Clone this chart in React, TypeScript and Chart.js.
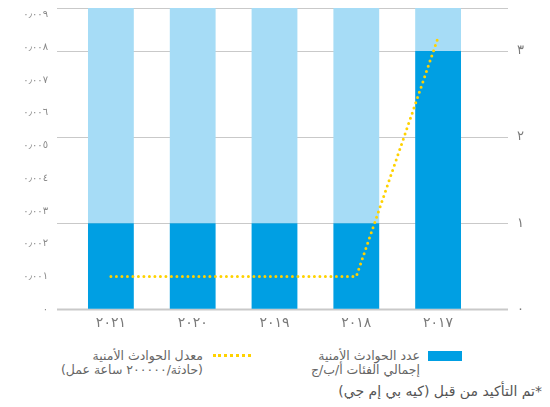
import React, { useEffect, useRef } from "react";
import { Chart, registerables } from "chart.js";

Chart.register(...registerables);

const years = ["٢٠٢١", "٢٠٢٠", "٢٠١٩", "٢٠١٨", "٢٠١٧"];
const incidents = [1, 1, 1, 1, 3];
const rate = [0.001, 0.001, 0.001, 0.001, 0.0083];
const incidentAxisMax = 3.5;
const incidentTicks = [0, 1, 2, 3, 3.5];
const rateTicks = [0, 0.001, 0.002, 0.003, 0.004, 0.005, 0.006, 0.007, 0.008, 0.009];
const rateAxisMax = 0.0092;

const legendBars = ["عدد الحوادث الأمنية", "إجمالي الفئات أ/ب/ج"];
const legendLine = ["معدل الحوادث الأمنية", "(حادثة/٢٠٠٠٠٠ ساعة عمل)"];
const footnote = "*تم التأكيد من قبل (كيه بي إم جي)";

const arabicDigits = "٠١٢٣٤٥٦٧٨٩";
function toArabic(s: string): string {
  return s.replace(/[0-9]/g, (d) => arabicDigits[+d]).replace(".", "٫");
}

const FONT = "'DejaVu Sans', sans-serif";

const gridPlugin = {
  id: "extGrid",
  beforeDatasetsDraw(chart: any) {
    const { ctx, chartArea, scales } = chart;
    const y1 = scales.y1;
    ctx.save();
    y1.ticks.forEach((t: any) => {
      const y = Math.round(y1.getPixelForValue(t.value)) + 0.5;
      ctx.beginPath();
      ctx.strokeStyle = "#c9c9c9";
      ctx.lineWidth = t.value === 0 ? 2 : 1.2;
      ctx.moveTo(chartArea.left - 13, y);
      ctx.lineTo(chartArea.right + 29, y);
      ctx.stroke();
    });
    ctx.restore();
  },
};

export default function App() {
  const ref = useRef<HTMLCanvasElement>(null);
  useEffect(() => {
    if (!ref.current) return;
    const chart = new Chart(ref.current, {
      type: "bar",
      data: {
        labels: years,
        datasets: [
          {
            type: "line",
            label: legendLine[0],
            data: rate,
            yAxisID: "y",
            borderColor: "#ffd200",
            borderWidth: 3,
            borderDash: [0, 5.5],
            borderCapStyle: "round",
            pointRadius: 0,
            fill: false,
            order: 0,
          } as any,
          {
            label: legendBars[0],
            data: incidents,
            yAxisID: "y1",
            backgroundColor: "#009fe3",
            stack: "s",
            order: 2,
            barPercentage: 0.56,
            categoryPercentage: 1,
          },
          {
            label: "rest",
            data: incidents.map((v) => incidentAxisMax - v),
            yAxisID: "y1",
            backgroundColor: "#a6dcf6",
            stack: "s",
            order: 2,
            barPercentage: 0.56,
            categoryPercentage: 1,
          },
        ],
      },
      options: {
        animation: false,
        responsive: false,
        maintainAspectRatio: false,
        layout: { padding: 0 },
        plugins: { legend: { display: false }, tooltip: { enabled: false } },
        scales: {
          x: {
            grid: { display: false, drawTicks: false },
            border: { display: false },
            ticks: { color: "#7a7a7a", font: { family: FONT, size: 14 }, padding: 6 },
          },
          y: {
            position: "left",
            min: 0,
            max: rateAxisMax,
            grid: { display: true, drawOnChartArea: false, drawTicks: true, tickLength: 20, tickColor: "rgba(0,0,0,0)" },
            border: { display: false },
            afterBuildTicks: (s: any) => {
              s.ticks = rateTicks.map((v) => ({ value: v }));
            },
            afterFit: (s: any) => {
              s.width = 62;
              s.paddingTop = 0;
              s.paddingBottom = 0;
            },
            ticks: {
              color: "#8a8a8a",
              font: { family: FONT, size: 10 },
              padding: 2,
              callback: (v: any) => (v === 0 ? "٠" : toArabic(Number(v).toFixed(3))),
            },
          },
          y1: {
            position: "right",
            stacked: true,
            min: 0,
            max: incidentAxisMax,
            grid: { display: true, drawOnChartArea: false, drawTicks: true, tickLength: 36, tickColor: "rgba(0,0,0,0)" },
            border: { display: false },
            afterBuildTicks: (s: any) => {
              s.ticks = incidentTicks.map((v) => ({ value: v }));
            },
            afterFit: (s: any) => {
              s.width = 63;
              s.paddingTop = 0;
              s.paddingBottom = 0;
            },
            ticks: {
              color: "#7a7a7a",
              font: { family: FONT, size: 13 },
              padding: 2,
              callback: (v: any) => (Number.isInteger(v) ? toArabic(String(v)) : ""),
            },
          },
        },
      },
      plugins: [gridPlugin],
    });
    return () => chart.destroy();
  }, []);

  const textStyle: React.CSSProperties = {
    position: "absolute",
    direction: "rtl",
    textAlign: "right",
    fontFamily: FONT,
    fontSize: 12.5,
    color: "#666",
    lineHeight: "14px",
    whiteSpace: "nowrap",
  };

  return (
    <div style={{ position: "relative", width: 534, height: 391 }}>
      <canvas ref={ref} width={534} height={330} style={{ display: "block" }} />
      <div style={{ position: "absolute", left: 420, top: 343, width: 34, height: 10, background: "#009fe3" }} />
      <div style={{ ...textStyle, right: 122, top: 341 }}>
        {legendBars[0]}
        <br />
        {legendBars[1]}
      </div>
      <div
        style={{
          position: "absolute",
          left: 205,
          top: 346,
          width: 38,
          height: 0,
          borderTop: "3px dotted #ffd200",
        }}
      />
      <div style={{ ...textStyle, right: 339, top: 341 }}>
        {legendLine[0]}
        <br />
        {legendLine[1]}
      </div>
      <div style={{ ...textStyle, right: 0, top: 375, fontSize: 14, color: "#555", lineHeight: "16px" }}>{footnote}</div>
    </div>
  );
}
